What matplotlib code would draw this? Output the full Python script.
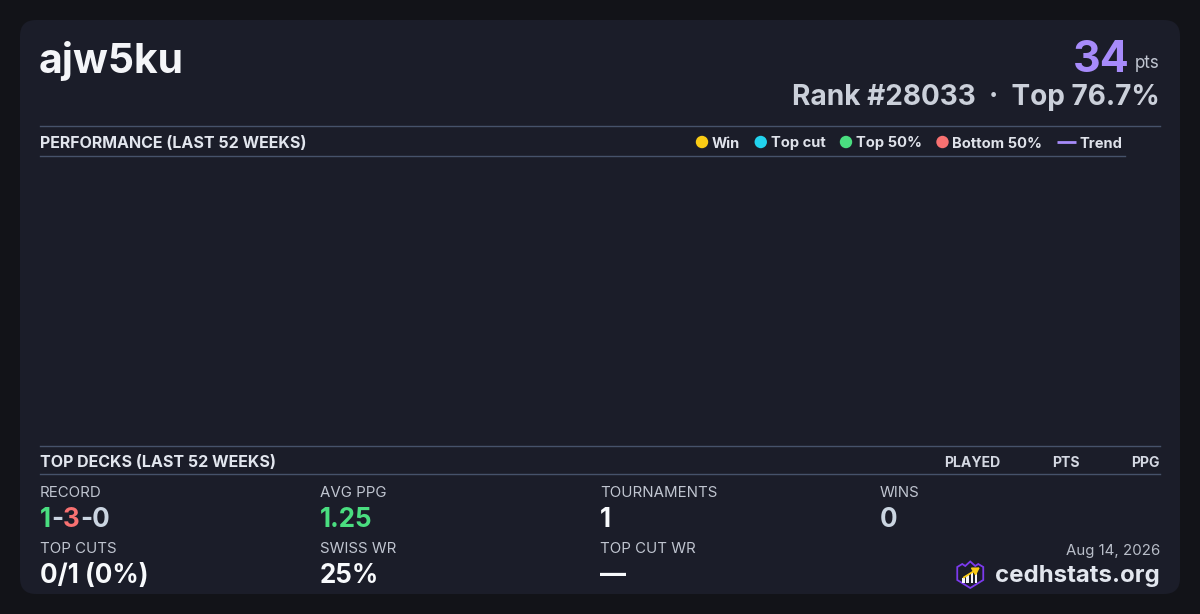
import matplotlib

matplotlib.use("Agg")
import matplotlib.pyplot as plt
from matplotlib.patches import FancyBboxPatch, Circle, Polygon, Rectangle, FancyArrowPatch

plt.rcParams["font.family"] = ["Inter", "DejaVu Sans"]

W, H, DPI = 1200, 614, 100

# card data
player = "ajw5ku"
points = "34"
rank_line = "Rank #28033  \u00b7  Top 76.7%"
perf_title = "PERFORMANCE (LAST 52 WEEKS)"
legend_labels = ["Win", "Top cut", "Top 50%", "Bottom 50%", "Trend"]
legend_colors = ["#facc15", "#22d3ee", "#4ade80", "#f87171", "#a78bfa"]
decks_title = "TOP DECKS (LAST 52 WEEKS)"
deck_columns = ["PLAYED", "PTS", "PPG"]
record = [("1", "#4ade80"), ("-", "#cbd5e1"), ("3", "#f87171"), ("-0", "#cbd5e1")]
stat_labels = ["AVG PPG", "TOURNAMENTS", "WINS", "TOP CUTS", "SWISS WR", "TOP CUT WR"]
stat_values = ["1.25", "1", "0", "0/1 (0%)", "25%", "\u2014"]
stat_colors = ["#4ade80", "#f8fafc", "#cbd5e1", "#f8fafc", "#f8fafc", "#f8fafc"]
date_text = "Aug 14, 2026"
site = "cedhstats.org"

BG = "#121318"
CARD = "#1b1d29"
RULE = "#46526a"


def pt(px):
    return px * 72 / DPI


fig = plt.figure(figsize=(W / DPI, H / DPI), dpi=DPI, facecolor=BG)
ax = fig.add_axes([0, 0, 1, 1])
ax.set_xlim(0, W)
ax.set_ylim(H, 0)
ax.axis("off")
renderer = fig.canvas.get_renderer()


def width_of(t):
    return t.get_window_extent(renderer=renderer).width


ax.add_patch(FancyBboxPatch((20, 20), 1160, 574, boxstyle="round,pad=0,rounding_size=16",
                            facecolor=CARD, edgecolor="none"))

# header
ax.text(39, 73, player, fontsize=pt(41), fontweight="bold", color="#f4f5f8", va="baseline")
t_pts = ax.text(1160, 68, "pts", fontsize=pt(17), color="#c0c5d0", va="baseline", ha="right")
ax.text(1160 - width_of(t_pts) - 6, 72, points, fontsize=pt(43), fontweight="bold",
        color="#a78bfa", va="baseline", ha="right")
ax.text(1160, 105, rank_line, fontsize=pt(28), fontweight="bold", color="#cbd0da",
        va="baseline", ha="right")

# performance section
ax.plot([40, 1160], [126, 126], color=RULE, lw=1)
ax.plot([40, 1125], [156, 156], color=RULE, lw=1)
ax.text(40, 148, perf_title, fontsize=pt(16), fontweight="bold", color="#e2e6ee", va="baseline")

x = 696
for lab, col in zip(legend_labels, legend_colors):
    if lab == "Trend":
        ax.plot([x, x + 19], [142, 142], color=col, lw=2, solid_capstyle="butt")
        x += 23
    else:
        ax.add_patch(Circle((x + 6, 142), 6.2, facecolor=col, edgecolor="none"))
        x += 16
    t = ax.text(x, 142, lab, fontsize=pt(14.7), fontweight="bold", color="#dfe2ea", va="center_baseline")
    x += width_of(t) + 14.5

# top decks section
ax.plot([40, 1160], [446, 446], color=RULE, lw=1)
ax.plot([40, 1160], [474, 474], color=RULE, lw=1)
ax.text(40, 467, decks_title, fontsize=pt(16), fontweight="bold", color="#e2e6ee", va="baseline")
for col_name, xr in zip(deck_columns, [1000, 1080, 1160]):
    ax.text(xr, 467, col_name, fontsize=pt(14), fontweight="bold", color="#d4d8e2",
            va="baseline", ha="right")

# stats grid
col_x = [40, 320, 600, 880]
label_y = [497, 553]
value_y = [527, 583]
ax.text(40, 497, "RECORD", fontsize=pt(15), color="#c0c5d0", va="baseline")
x = 40
for piece, col in record:
    t = ax.text(x, 527, piece, fontsize=pt(26), fontweight="bold", color=col, va="baseline")
    x += width_of(t)

cells = [(0, 1), (0, 2), (0, 3), (1, 0), (1, 1), (1, 2)]
for (r, c), lab, val, col in zip(cells, stat_labels, stat_values, stat_colors):
    ax.text(col_x[c], label_y[r], lab, fontsize=pt(15), color="#c0c5d0", va="baseline")
    ax.text(col_x[c], value_y[r], val, fontsize=pt(26), fontweight="bold", color=col, va="baseline")

# footer
ax.text(1160, 555, date_text, fontsize=pt(15), color="#b8bdc8", va="baseline", ha="right")
t_site = ax.text(1160, 582, site, fontsize=pt(24), fontweight="bold", color="#e2e6ee",
                 va="baseline", ha="right")
lx = 1160 - width_of(t_site) - 39
ly = 561
shield = [(1, 6), (6, 3), (9, 5), (14, 0.5), (19, 5), (22, 3), (27, 6), (27, 19), (14, 27), (1, 19)]
ax.add_patch(Polygon([(lx + a, ly + b) for a, b in shield], closed=True, facecolor=CARD,
                     edgecolor="#7c3aed", lw=1.3))
for i, h in enumerate([5, 8, 11, 14]):
    ax.add_patch(Rectangle((lx + 6 + i * 4.2, ly + 22 - h), 2.6, h, facecolor="#f4f5f8", edgecolor="none"))
ax.add_patch(FancyArrowPatch((lx + 5, ly + 18), (lx + 26, ly + 5), arrowstyle="-|>,head_length=4,head_width=2.5",
                             color="#facc15", lw=1.3, mutation_scale=1))

fig.savefig("out.png", dpi=DPI, facecolor=BG)
